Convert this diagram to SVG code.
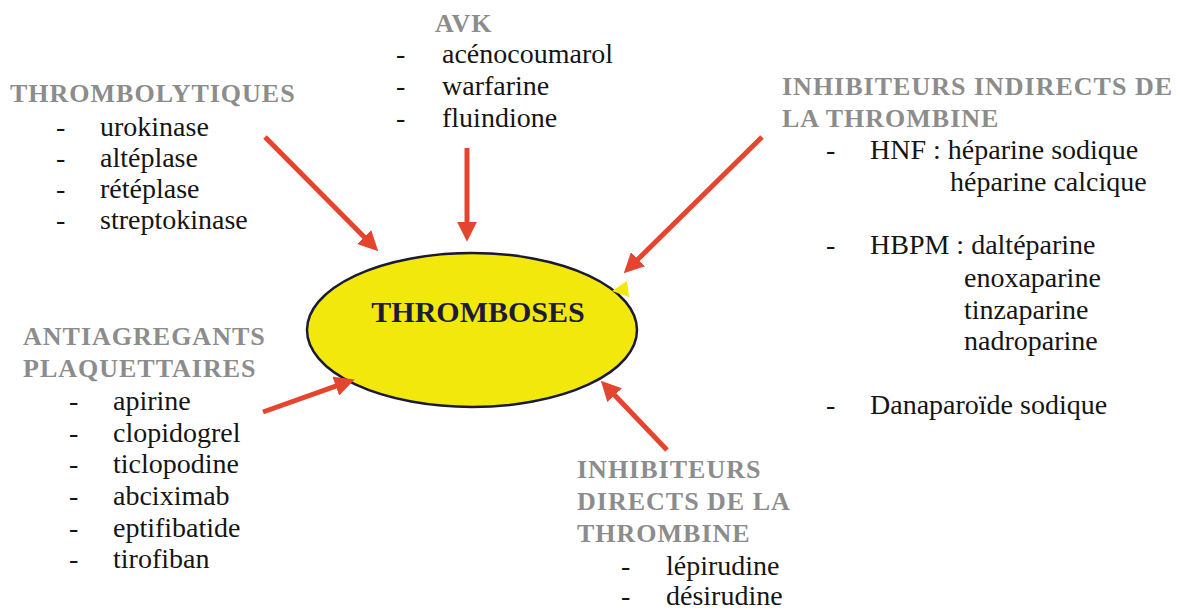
<svg xmlns="http://www.w3.org/2000/svg" width="1182" height="610" viewBox="0 0 1182 610">
<defs>
<marker id="ah" markerUnits="userSpaceOnUse" markerWidth="20" markerHeight="20" refX="2" refY="9" orient="auto" viewBox="0 0 18 18">
<path d="M0,0 L18,9 L0,18 z" fill="#e5452e"/>
</marker>
</defs>
<rect width="1182" height="610" fill="#ffffff"/>

<g id="thromboses">
<ellipse cx="472" cy="330" rx="165" ry="77" fill="#f3e80c" stroke="#1a1a38" stroke-width="2.5"/>
<polygon points="612,291 627,281 629,297" fill="#f3e80c"/>
<text x="478" y="322" text-anchor="middle" font-family="Liberation Serif" font-weight="bold" font-size="30" fill="#1c1c3a">THROMBOSES</text>
</g>

<g id="thrombolytiques">
<text x="10" y="102" font-family="Liberation Serif" font-weight="bold" font-size="26" letter-spacing="1" fill="#8c8c8c">THROMBOLYTIQUES</text>
<text x="56" y="136" font-family="Liberation Serif" font-size="28" fill="#151515">-</text>
<text x="100" y="136" font-family="Liberation Serif" font-size="28" fill="#151515">urokinase</text>
<text x="56" y="167" font-family="Liberation Serif" font-size="28" fill="#151515">-</text>
<text x="100" y="167" font-family="Liberation Serif" font-size="28" fill="#151515">altéplase</text>
<text x="56" y="198" font-family="Liberation Serif" font-size="28" fill="#151515">-</text>
<text x="100" y="198" font-family="Liberation Serif" font-size="28" fill="#151515">rétéplase</text>
<text x="56" y="229" font-family="Liberation Serif" font-size="28" fill="#151515">-</text>
<text x="100" y="229" font-family="Liberation Serif" font-size="28" fill="#151515">streptokinase</text>
</g>

<g id="avk">
<text x="435" y="32" font-family="Liberation Serif" font-weight="bold" font-size="26" letter-spacing="1" fill="#8c8c8c">AVK</text>
<text x="396" y="63" font-family="Liberation Serif" font-size="28" fill="#151515">-</text>
<text x="442" y="63" font-family="Liberation Serif" font-size="28" fill="#151515">acénocoumarol</text>
<text x="396" y="95" font-family="Liberation Serif" font-size="28" fill="#151515">-</text>
<text x="442" y="95" font-family="Liberation Serif" font-size="28" fill="#151515">warfarine</text>
<text x="396" y="127" font-family="Liberation Serif" font-size="28" fill="#151515">-</text>
<text x="442" y="127" font-family="Liberation Serif" font-size="28" fill="#151515">fluindione</text>
</g>

<g id="indirects">
<text x="782" y="95" font-family="Liberation Serif" font-weight="bold" font-size="26" letter-spacing="1" fill="#8c8c8c">INHIBITEURS INDIRECTS DE</text>
<text x="782" y="127" font-family="Liberation Serif" font-weight="bold" font-size="26" letter-spacing="1" fill="#8c8c8c">LA THROMBINE</text>
<text x="826" y="159" font-family="Liberation Serif" font-size="28" fill="#151515">-</text>
<text x="870" y="159" font-family="Liberation Serif" font-size="28" fill="#151515">HNF : héparine sodique</text>
<text x="950" y="191" font-family="Liberation Serif" font-size="28" fill="#151515">héparine calcique</text>
<text x="826" y="254" font-family="Liberation Serif" font-size="28" fill="#151515">-</text>
<text x="870" y="254" font-family="Liberation Serif" font-size="28" fill="#151515">HBPM : daltéparine</text>
<text x="964" y="287" font-family="Liberation Serif" font-size="28" fill="#151515">enoxaparine</text>
<text x="964" y="319" font-family="Liberation Serif" font-size="28" fill="#151515">tinzaparine</text>
<text x="964" y="350" font-family="Liberation Serif" font-size="28" fill="#151515">nadroparine</text>
<text x="826" y="414" font-family="Liberation Serif" font-size="28" fill="#151515">-</text>
<text x="870" y="414" font-family="Liberation Serif" font-size="28" fill="#151515">Danaparoïde sodique</text>
</g>

<g id="antiagregants">
<text x="23" y="345" font-family="Liberation Serif" font-weight="bold" font-size="26" letter-spacing="1" fill="#8c8c8c">ANTIAGREGANTS</text>
<text x="23" y="377" font-family="Liberation Serif" font-weight="bold" font-size="26" letter-spacing="1" fill="#8c8c8c">PLAQUETTAIRES</text>
<text x="69" y="410" font-family="Liberation Serif" font-size="28" fill="#151515">-</text>
<text x="113" y="410" font-family="Liberation Serif" font-size="28" fill="#151515">apirine</text>
<text x="69" y="442" font-family="Liberation Serif" font-size="28" fill="#151515">-</text>
<text x="113" y="442" font-family="Liberation Serif" font-size="28" fill="#151515">clopidogrel</text>
<text x="69" y="473" font-family="Liberation Serif" font-size="28" fill="#151515">-</text>
<text x="113" y="473" font-family="Liberation Serif" font-size="28" fill="#151515">ticlopodine</text>
<text x="69" y="505" font-family="Liberation Serif" font-size="28" fill="#151515">-</text>
<text x="113" y="505" font-family="Liberation Serif" font-size="28" fill="#151515">abciximab</text>
<text x="69" y="537" font-family="Liberation Serif" font-size="28" fill="#151515">-</text>
<text x="113" y="537" font-family="Liberation Serif" font-size="28" fill="#151515">eptifibatide</text>
<text x="69" y="568" font-family="Liberation Serif" font-size="28" fill="#151515">-</text>
<text x="113" y="568" font-family="Liberation Serif" font-size="28" fill="#151515">tirofiban</text>
</g>

<g id="directs">
<text x="577" y="478" font-family="Liberation Serif" font-weight="bold" font-size="26" letter-spacing="1" fill="#8c8c8c">INHIBITEURS</text>
<text x="577" y="510" font-family="Liberation Serif" font-weight="bold" font-size="26" letter-spacing="1" fill="#8c8c8c">DIRECTS DE LA</text>
<text x="577" y="542" font-family="Liberation Serif" font-weight="bold" font-size="26" letter-spacing="1" fill="#8c8c8c">THROMBINE</text>
<text x="621" y="575" font-family="Liberation Serif" font-size="28" fill="#151515">-</text>
<text x="666" y="575" font-family="Liberation Serif" font-size="28" fill="#151515">lépirudine</text>
<text x="621" y="605" font-family="Liberation Serif" font-size="28" fill="#151515">-</text>
<text x="666" y="605" font-family="Liberation Serif" font-size="28" fill="#151515">désirudine</text>
</g>

<g id="connectors" stroke="#e5452e" stroke-width="5" fill="none" marker-end="url(#ah)">
<line x1="265" y1="137" x2="365.7" y2="238.6"/>
<line x1="467" y1="148" x2="467" y2="224"/>
<line x1="762" y1="137" x2="636.4" y2="260.8"/>
<line x1="263" y1="412" x2="337.9" y2="385.4"/>
<line x1="667" y1="450" x2="613.1" y2="393.6"/>
</g>
</svg>
